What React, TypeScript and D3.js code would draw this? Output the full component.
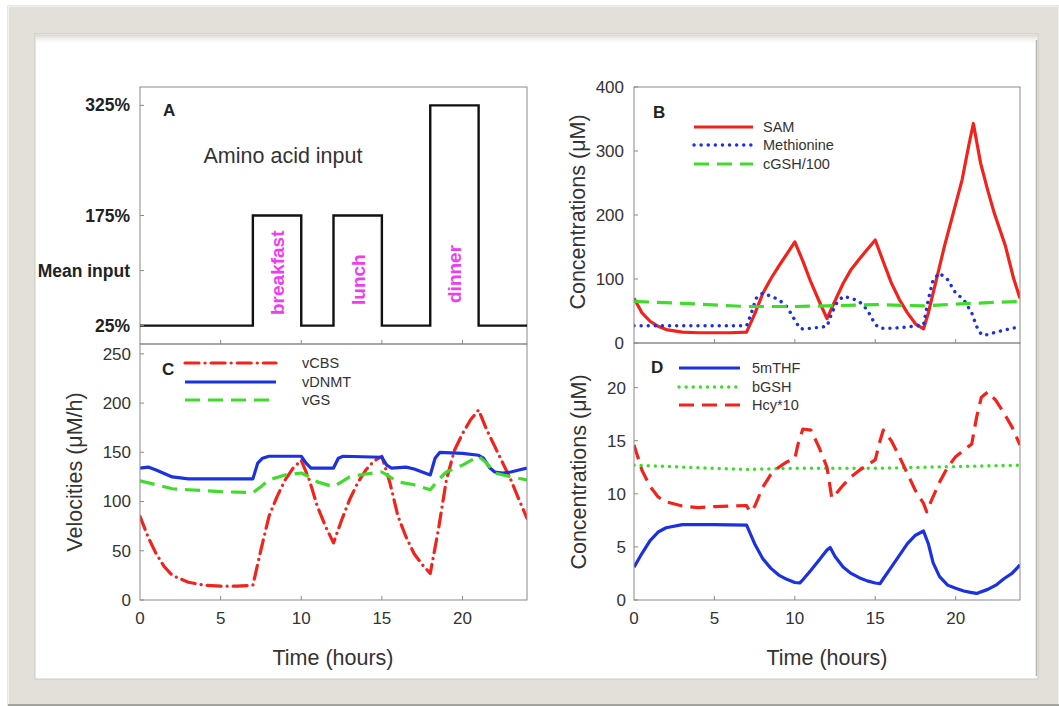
import React from "react";
import * as d3 from "d3";

type P = [number, number];

// ---- Data ----
const MEAL_TIMES = [0, 7, 10, 12, 15, 18, 21, 24];
const AMINO_INPUT = [25, 175, 25, 175, 25, 325, 25, 25];
const A_TICKS = [25, 100, 175, 325];
const A_TICK_LABELS = ["25%", "Mean input", "175%", "325%"];
const MEALS = ["breakfast", "lunch", "dinner"];
const MEAL_MID = [8.5, 13.5, 19.5];

const SAM: P[] = [[0,70],[0.5,47],[1,34],[1.5,26],[2,21],[3,17],[4,16],[5,16],[6,16],[7,17],[7.5,45],[8,77],[8.5,100],[9,120],[9.5,139],[10,158],[10.5,128],[11,95],[11.5,66],[12,38],[12.5,66],[13,93],[13.5,115],[14,131],[14.5,146],[15,161],[15.5,127],[16,94],[16.5,68],[17,47],[17.5,30],[18,22],[18.3,47],[18.8,99],[19.3,151],[19.85,203],[20.4,255],[20.8,307],[21.1,343],[21.55,281],[22,238],[22.4,203],[23.1,151],[23.6,101],[24,70]];
const METHIONINE: P[] = [[0,27],[7,27],[7.3,47],[7.6,70],[8,78],[8.5,73],[9,68],[9.5,57],[10,36],[10.3,23],[10.5,22],[11,23],[12,26],[12.3,47],[12.6,62],[13,73],[13.5,70],[14,65],[14.5,52],[15,29],[15.3,23],[16,23],[17,25],[18,28],[18.3,68],[18.6,99],[19,109],[19.5,99],[20,78],[20.5,68],[21,47],[21.3,26],[21.6,13],[22,13],[22.5,17],[23,20],[23.5,23],[24,25]];
const CGSH: P[] = [[0,65],[3,62],[7,57],[10,57],[12,58],[15,60],[18,58],[21,62],[24,65]];

const VCBS: P[] = [[0,85],[0.5,64],[1,47],[1.5,34],[2,25],[3,18],[4,15],[5,14],[6,14],[7,15],[7.5,51],[8,85],[8.5,105],[9,122],[9.5,134],[10,142],[10.5,122],[11,95],[11.5,75],[12,58],[12.5,81],[13,102],[13.5,119],[14,132],[14.5,141],[15,146],[15.5,119],[16,85],[16.5,64],[17,47],[17.5,36],[18,27],[18.5,71],[19,122],[19.5,152],[20,169],[20.5,183],[21,193],[21.5,173],[22,156],[22.5,139],[23,122],[23.5,102],[24,83]];
const VDNMT: P[] = [[0,134],[0.5,135],[1,132],[2,125],[3,123],[7,123],[7.3,139],[7.6,144],[8,146],[10,146],[10.3,139],[10.6,134],[12,134],[12.3,144],[12.6,146],[15,145],[15.3,137],[15.6,134],[16.5,135],[17,133],[17.5,130],[18,127],[18.3,144],[18.6,150],[20,149],[21,147],[21.3,144],[21.7,134],[22,130],[22.5,129],[23,130],[23.5,132],[24,134]];
const VGS: P[] = [[0,121],[1,117],[2,113],[3,112],[4,111],[5,110],[7,109],[7.5,115],[8,122],[9,127],[10,129],[10.5,125],[11,120],[12,115],[12.5,120],[13,125],[14,128],[15,130],[15.5,125],[16,120],[17,117],[18,112],[18.5,122],[19,130],[20,137],[21,146],[21.5,139],[22,129],[23,125],[24,122]];

const MTHF: P[] = [[0,3.1],[0.5,4.4],[1,5.6],[1.5,6.4],[2,6.8],[3,7.1],[5,7.1],[7,7.05],[7.5,5.3],[8,3.9],[8.5,3.0],[9,2.35],[9.5,1.95],[10,1.65],[10.3,1.6],[10.5,1.9],[11,2.8],[11.5,3.75],[12,4.7],[12.2,4.95],[12.5,4.1],[13,3.1],[13.5,2.5],[14,2.1],[14.5,1.8],[15,1.6],[15.3,1.55],[15.5,2.0],[16,3.1],[16.5,4.2],[17,5.3],[17.5,6.1],[18,6.5],[18.3,5.3],[18.6,3.5],[19,2.2],[19.5,1.4],[20,1.1],[20.5,0.85],[21,0.7],[21.3,0.62],[22,1.0],[22.5,1.4],[23,2.0],[23.5,2.5],[24,3.3]];
const BGSH: P[] = [[0,12.7],[5,12.4],[7,12.3],[10,12.4],[15,12.4],[18,12.5],[21,12.6],[24,12.7]];
const HCY10: P[] = [[0,14.6],[0.5,12.2],[1,10.7],[1.5,9.7],[2,9.25],[3,8.85],[4,8.7],[5,8.8],[6,8.85],[7,8.9],[7.2,8.3],[7.5,8.8],[8,10.6],[8.5,11.8],[9,12.5],[9.5,13.0],[10,13.3],[10.2,14.7],[10.5,16.1],[11,16.0],[11.5,14.4],[12,12.5],[12.3,9.6],[12.5,9.9],[13,10.8],[13.5,11.6],[14,12.2],[14.5,12.7],[15,13.2],[15.3,15.0],[15.5,16.0],[16,15.0],[16.5,13.5],[17,11.9],[17.5,10.3],[18,9.1],[18.2,8.3],[18.5,9.4],[19,11.1],[19.5,12.5],[20,13.5],[20.5,14.1],[21,14.7],[21.3,17.2],[21.6,19.1],[22,19.6],[22.5,18.8],[23,17.6],[23.5,16.3],[24,14.6]];

const X_TICKS = [0, 5, 10, 15, 20];
const B_TICKS = [0, 100, 200, 300, 400];
const C_TICKS = [0, 50, 100, 150, 200, 250];
const D_TICKS = [0, 5, 10, 15, 20];

// ---- Styles ----
const FONT = "'Liberation Sans', Arial, Helvetica, sans-serif";
const RED = "#f0241c";
const BLUE = "#1c32e0";
const GREEN = "#3fdc2c";
const MAGENTA = "#ee3cee";
const AXIS = "#8a8a8a";
const TXT = "#333";

const DOTTED = "0.1 7";
const DASHED = "15 8";
const DASHDOT = "14 6 0.1 6";

interface Series { data: P[]; color: string; dash?: string; cap?: string; width?: number }

function Panel(props: {
  x0: number; x1: number; y0: number; y1: number; yMax: number;
  yTicks: number[]; xLabels: boolean; series: Series[];
  id: string; yLabelOffset?: number;
}) {
  const { x0, x1, y0, y1, yMax, yTicks, xLabels, series, id } = props;
  const x = d3.scaleLinear().domain([0, 24]).range([x0, x1]);
  const y = d3.scaleLinear().domain([0, yMax]).range([y1, y0]);
  const line = d3.line<P>().x(d => x(d[0])).y(d => y(d[1]));
  const off = props.yLabelOffset ?? 9;
  return (
    <g>
      <defs>
        <clipPath id={id}><rect x={x0} y={y0} width={x1 - x0} height={y1 - y0} /></clipPath>
      </defs>
      <g clipPath={`url(#${id})`}>
        {series.map((s, i) => (
          <path key={i} d={line(s.data) || ""} fill="none" stroke={s.color}
            strokeWidth={s.width ?? 3.2} strokeDasharray={s.dash}
            strokeLinecap={(s.cap as any) ?? "butt"} strokeLinejoin="round" />
        ))}
      </g>
      <rect x={x0} y={y0} width={x1 - x0} height={y1 - y0} fill="none" stroke={AXIS} strokeWidth={1} />
      {yTicks.map((t, i) => (
        <g key={"y" + i}>
          <line x1={x0} x2={x0 + 4} y1={y(t)} y2={y(t)} stroke={AXIS} />
          <text x={x0 - off} y={y(t)} dy="0.35em" textAnchor="end" fontFamily={FONT}
            fontSize={17} fill={TXT}>{String(t)}</text>
        </g>
      ))}
      {X_TICKS.map((t, i) => (
        <g key={"x" + i}>
          {t > 0 && <line x1={x(t)} x2={x(t)} y1={y1} y2={y1 - 4} stroke={AXIS} />}
          {xLabels && (
            <text x={x(t)} y={y1 + 24} textAnchor="middle" fontFamily={FONT} fontSize={17} fill={TXT}>{t}</text>
          )}
        </g>
      ))}
    </g>
  );
}

function Legend(props: { x0: number; x1: number; tx: number; ys: number[]; labels: string[]; series: Series[] }) {
  const { x0, x1, tx, ys, labels, series } = props;
  return (
    <g>
      {labels.map((l, i) => (
        <g key={i}>
          <line x1={x0} x2={x1} y1={ys[i]} y2={ys[i]} stroke={series[i].color} strokeWidth={series[i].width ?? 3.2}
            strokeDasharray={series[i].dash} strokeLinecap={(series[i].cap as any) ?? "butt"} />
          <text x={tx} y={ys[i]} dy="0.35em" fontFamily={FONT} fontSize={14.5} fill={TXT}>{l}</text>
        </g>
      ))}
    </g>
  );
}

export default function App() {
  const W = 1059, H = 706;
  const ax = d3.scaleLinear().domain([0, 24]).range([140, 527]);
  const ay = d3.scaleLinear().domain([0, 350]).range([344, 87]);
  const stepData: P[] = MEAL_TIMES.map((t, i) => [t, AMINO_INPUT[i]]);
  const step = d3.line<P>().x(d => ax(d[0])).y(d => ay(d[1])).curve(d3.curveStepAfter);

  const sB: Series[] = [
    { data: SAM, color: RED },
    { data: METHIONINE, color: BLUE, dash: DOTTED, cap: "round", width: 3.4 },
    { data: CGSH, color: GREEN, dash: DASHED },
  ];
  const sC: Series[] = [
    { data: VCBS, color: RED, dash: DASHDOT, cap: "round" },
    { data: VDNMT, color: BLUE },
    { data: VGS, color: GREEN, dash: DASHED },
  ];
  const sD: Series[] = [
    { data: MTHF, color: BLUE },
    { data: BGSH, color: GREEN, dash: DOTTED, cap: "round", width: 3.4 },
    { data: HCY10, color: RED, dash: DASHED },
  ];

  return (
    <div style={{ position: "absolute", left: 0, top: 0, width: W, height: H }}>
      <svg width={W} height={H} viewBox={`0 0 ${W} ${H}`} style={{ display: "block" }}>
        <defs>
          <linearGradient id="topShade" x1="0" y1="0" x2="0" y2="1">
            <stop offset="0" stopColor="#d8d8d2" />
            <stop offset="1" stopColor="#ffffff" stopOpacity="0" />
          </linearGradient>
        </defs>
        {/* frame */}
        <rect x={0} y={0} width={W} height={H} fill="#ffffff" />
        <rect x={8} y={6} width={W - 8} height={H - 6} fill="#e2e0d8" stroke="#cfcdc4" strokeWidth={1} />
        <rect x={8.5} y={6.5} width={W - 9} height={H - 8} fill="none" stroke="#f2f1ec" strokeWidth={1} />
        <line x1={8} x2={W} y1={705} y2={705} stroke="#8c8c88" strokeWidth={1.5} />
        <rect x={35} y={34} width={1003} height={645} fill="#ffffff" stroke="#c9c8c0" strokeWidth={1} />
        <rect x={36} y={35} width={1001} height={10} fill="url(#topShade)" />
        <line x1={1036.5} x2={1036.5} y1={40} y2={676} stroke="#b9b9b4" strokeWidth={1.5} />

        {/* Panel A */}
        <rect x={140} y={87} width={387} height={257} fill="none" stroke={AXIS} />
        <path d={step(stepData) || ""} fill="none" stroke="#111" strokeWidth={2.4} />
        {A_TICKS.map((t, i) => (
          <g key={i}>
            <line x1={140} x2={144} y1={ay(t)} y2={ay(t)} stroke={AXIS} />
            <text x={130} y={ay(t)} dy="0.35em" textAnchor="end" fontFamily={FONT} fontSize={17.5}
              fontWeight="bold" fill="#222">{A_TICK_LABELS[i]}</text>
          </g>
        ))}
        {X_TICKS.filter(t => t > 0).map(t => (
          <line key={t} x1={ax(t)} x2={ax(t)} y1={344} y2={340} stroke={AXIS} />
        ))}
        <text x={283} y={163} textAnchor="middle" fontFamily={FONT} fontSize={21.5} fill={TXT}>Amino acid input</text>
        {MEALS.map((m, i) => (
          <text key={m} transform={`translate(${ax(MEAL_MID[i])},${[315, 305, 303][i]}) rotate(-90)`}
            dy="0.36em" fontFamily={FONT} fontSize={19} fontWeight="bold" fill={MAGENTA}>{m}</text>
        ))}
        <text x={163} y={116} fontFamily={FONT} fontSize={17} fontWeight="bold" fill="#222">A</text>

        {/* Panel C */}
        <Panel id="clipC" x0={140} x1={527} y0={344} y1={600} yMax={260} yTicks={C_TICKS} xLabels={true} series={sC} />
        <text x={162} y={375} fontFamily={FONT} fontSize={17} fontWeight="bold" fill="#222">C</text>
        <Legend x0={185} x1={276} tx={302} ys={[363, 382, 400]} labels={["vCBS", "vDNMT", "vGS"]} series={sC} />
        <text transform="translate(82,472) rotate(-90)" textAnchor="middle" fontFamily={FONT} fontSize={21.5} fill={TXT}>Velocities (μM/h)</text>
        <text x={333} y={665} textAnchor="middle" fontFamily={FONT} fontSize={21.5} fill={TXT}>Time (hours)</text>

        {/* Panel B */}
        <Panel id="clipB" x0={634} x1={1020} y0={87} y1={343} yMax={400} yTicks={B_TICKS} xLabels={false} series={sB} yLabelOffset={10} />
        <text x={653} y={118} fontFamily={FONT} fontSize={17} fontWeight="bold" fill="#222">B</text>
        <Legend x0={694} x1={753} tx={763} ys={[127, 145, 164]} labels={["SAM", "Methionine", "cGSH/100"]} series={sB} />
        <text transform="translate(585,212) rotate(-90)" textAnchor="middle" fontFamily={FONT} fontSize={21.5} fill={TXT}>Concentrations (μM)</text>

        {/* Panel D */}
        <Panel id="clipD" x0={634} x1={1020} y0={343} y1={600} yMax={24.2} yTicks={D_TICKS} xLabels={true} series={sD} yLabelOffset={8} />
        <text x={651} y={373} fontFamily={FONT} fontSize={17} fontWeight="bold" fill="#222">D</text>
        <Legend x0={679} x1={740} tx={752} ys={[368, 387, 405]} labels={["5mTHF", "bGSH", "Hcy*10"]} series={sD} />
        <text transform="translate(586,472) rotate(-90)" textAnchor="middle" fontFamily={FONT} fontSize={21.5} fill={TXT}>Concentrations (μM)</text>
        <text x={827} y={665} textAnchor="middle" fontFamily={FONT} fontSize={21.5} fill={TXT}>Time (hours)</text>
      </svg>
    </div>
  );
}
